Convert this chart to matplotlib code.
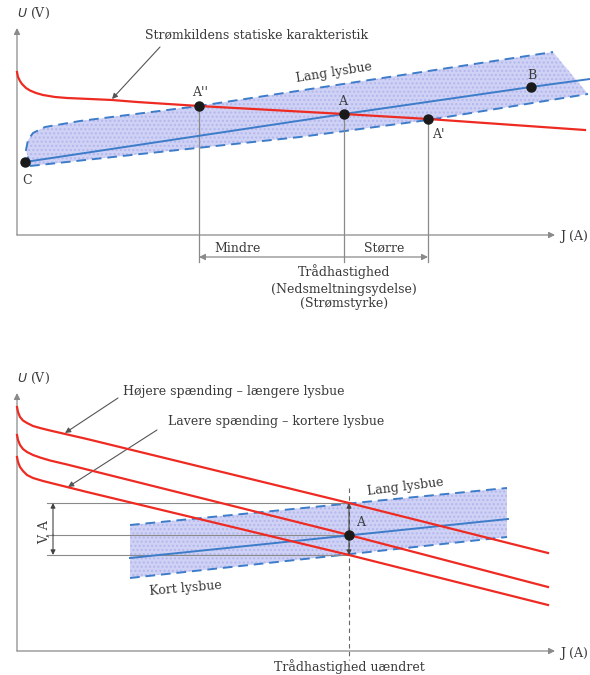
import matplotlib.pyplot as plt
from matplotlib.patches import Polygon

plt.rcParams["font.family"] = ["DejaVu Serif"]
TXT = "#3a3a3a"
RED = "#ee2b22"
BLUE = "#3d7cc9"
FILL = "#cfd2f5"
GREY = "#8a8a8a"

# ---- øverste diagram (vilkårlige enheder J, U) ----
kilde_j = [0, 0.2, 0.6, 1, 1.8, 2.6, 3.8, 5.2, 7.6, 10, 14.6, 19, 24, 36.4, 65.4, 82.2, 113.6]
kilde_u = [32.6, 31.6, 30.8, 30.2, 29.4, 28.9, 28.4, 28.0, 27.6, 27.4, 27.2, 27.0, 26.6,
           25.8, 24.2, 23.2, 21.0]

lysbue_j = [1.6, 65.4, 102.8, 114.6]
lysbue_u = [14.6, 24.2, 29.6, 31.2]

baand_top_j = [2.6, 1.8, 2.2, 3.2, 5.6, 12.6, 36.4, 107.2]
baand_top_u = [13.8, 17, 19, 20.4, 21.6, 22.8, 25.8, 36.6]
baand_bund_j = [2.6, 26.6, 56.6, 82.2, 114.2]
baand_bund_u = [13.8, 16.4, 19.6, 23.0, 28.2]

punkt_navn = ["A''", "A", "A'", "B", "C"]
punkt_j = [36.4, 65.4, 82.2, 102.8, 1.6]
punkt_u = [25.8, 24.2, 23.2, 29.6, 14.6]

# ---- nederste diagram ----
hoej_j = [0, 0.2, 0.6, 1.2, 2, 3.2, 4.6, 6.6, 9.2, 14, 66.4, 106.2]
hoej_u = [48.8, 47.8, 46.8, 46.1, 45.6, 45.0, 44.6, 44.1, 43.5, 42.4, 29.6, 19.6]
mellem_j = [0, 0.2, 0.6, 1.2, 2, 3.2, 4.6, 6.6, 10, 14, 66.4, 106.2]
mellem_u = [43.2, 42.2, 41.2, 40.4, 39.8, 39.2, 38.7, 38.1, 37.3, 36.3, 23.2, 12.8]
lav_j = [0, 0.2, 0.6, 1.2, 2, 3.2, 5.2, 7.6, 10, 14, 66.4, 106.2]
lav_u = [38.8, 37.8, 36.8, 36.0, 35.2, 34.6, 34.0, 33.4, 32.8, 31.8, 19.2, 9.2]

baand2_top_j = [22.6, 98]
baand2_top_u = [25.2, 32.6]
baand2_bund_j = [22.6, 98]
baand2_bund_u = [14.6, 22.8]
lysbue2_j = [22.6, 98.2]
lysbue2_u = [18.6, 26.4]

a_j = 66.4
niveau_u = [29.6, 23.2, 19.2]

fig = plt.figure(figsize=(5.9, 6.75), dpi=100)
ax1 = fig.add_axes([0, 1 - 330 / 675, 1, 330 / 675])
ax2 = fig.add_axes([0, 0, 1, 335 / 675])
ax1.set_xlim(-3.4, 114.6)
ax1.set_ylim(-19, 47)
ax2.set_xlim(-3.4, 114.6)
ax2.set_ylim(-4.8, 62.2)
for ax in (ax1, ax2):
    ax.axis("off")


def pil(ax, start, slut, color=GREY, lw=0.9, ms=9):
    ax.annotate("", xy=slut, xytext=start,
                arrowprops=dict(arrowstyle="-|>", color=color, lw=lw,
                                mutation_scale=ms, shrinkA=0, shrinkB=0))


def tekst(ax, x, y, s, **kw):
    kw.setdefault("ha", "center")
    kw.setdefault("va", "center")
    kw.setdefault("fontsize", 9)
    ax.text(x, y, s, color=TXT, **kw)


# ---------- øverst ----------
poly = list(zip(baand_top_j, baand_top_u)) + list(zip(baand_bund_j[::-1], baand_bund_u[::-1]))
ax1.add_patch(Polygon(poly, closed=True, facecolor=FILL, edgecolor="#b3b7ec",
                      hatch="....", lw=0, zorder=1))
ax1.plot(baand_top_j, baand_top_u, ls=(0, (5, 3)), color=BLUE, lw=1.4, zorder=2)
ax1.plot(baand_bund_j, baand_bund_u, ls=(0, (5, 3)), color=BLUE, lw=1.4, zorder=2)
ax1.plot(lysbue_j, lysbue_u, color=BLUE, lw=1.4, zorder=3)
ax1.plot(kilde_j, kilde_u, color=RED, lw=1.6, zorder=4)

for j, u in zip(punkt_j[:3], punkt_u[:3]):
    ax1.plot([j, j], [u, -5.4], color=GREY, lw=0.9, zorder=2)
ax1.plot(punkt_j, punkt_u, "o", color="#1a1a1a", ms=6.5, zorder=5)

tekst(ax1, 36.6, 28.6, "A''")
tekst(ax1, 65.2, 26.7, "A")
tekst(ax1, 84.2, 20.0, "A'")
tekst(ax1, 103.0, 31.9, "B")
tekst(ax1, 2.0, 11.0, "C")

pil(ax1, (0, 0), (0, 41.4))
pil(ax1, (0, 0), (107.6, 0))
tekst(ax1, 108.6, -0.3, "J (A)", ha="left")
tekst(ax1, 3.2, 44.4, "$U$ (V)")

tekst(ax1, 48.0, 40.0, "Strømkildens statiske karakteristik")
pil(ax1, (28.6, 37.6), (19.0, 27.2), color="#555555", lw=0.8, ms=8)
tekst(ax1, 63.4, 32.4, "Lang lysbue", rotation=9)

ax1.annotate("", xy=(36.4, -4.4), xytext=(82.2, -4.4),
             arrowprops=dict(arrowstyle="<|-|>", color=GREY, lw=0.9,
                             mutation_scale=9, shrinkA=0, shrinkB=0))
tekst(ax1, 44.2, -2.6, "Mindre")
tekst(ax1, 73.4, -2.6, "Større")
tekst(ax1, 65.4, -7.4, "Trådhastighed")
tekst(ax1, 65.4, -10.8, "(Nedsmeltningsydelse)")
tekst(ax1, 65.4, -13.8, "(Strømstyrke)")

# ---------- nederst ----------
poly2 = list(zip(baand2_top_j, baand2_top_u)) + list(zip(baand2_bund_j[::-1], baand2_bund_u[::-1]))
ax2.add_patch(Polygon(poly2, closed=True, facecolor=FILL, edgecolor="#b3b7ec",
                      hatch="....", lw=0, zorder=1))
ax2.plot(baand2_top_j, baand2_top_u, ls=(0, (5, 3)), color=BLUE, lw=1.4, zorder=2)
ax2.plot(baand2_bund_j, baand2_bund_u, ls=(0, (5, 3)), color=BLUE, lw=1.4, zorder=2)
ax2.plot(lysbue2_j, lysbue2_u, color=BLUE, lw=1.4, zorder=3)

for u in niveau_u:
    ax2.plot([6.0, a_j], [u, u], color=GREY, lw=0.8, zorder=2)
ax2.plot([a_j, a_j], [32.6, -1.8], color="#666666", lw=0.8, ls=(0, (4, 3)), zorder=2)

for j_, u_ in ((hoej_j, hoej_u), (mellem_j, mellem_u), (lav_j, lav_u)):
    ax2.plot(j_, u_, color=RED, lw=1.6, zorder=4)

for x in (7.2, a_j):
    pil(ax2, (x, niveau_u[1]), (x, niveau_u[0]), color="#444444", lw=0.8, ms=7)
    pil(ax2, (x, niveau_u[1]), (x, niveau_u[2]), color="#444444", lw=0.8, ms=7)
tekst(ax2, 5.4, 23.8, "V, A", rotation=90)
ax2.plot([a_j], [niveau_u[1]], "o", color="#1a1a1a", ms=6.5, zorder=5)
tekst(ax2, 68.8, 25.6, "A")

pil(ax2, (0, 0), (0, 51.6))
pil(ax2, (0, 0), (107.6, 0))
tekst(ax2, 108.6, -0.4, "J (A)", ha="left")
tekst(ax2, 3.2, 54.6, "$U$ (V)")

tekst(ax2, 43.4, 51.8, "Højere spænding – længere lysbue")
pil(ax2, (20.2, 50.6), (9.6, 43.6), color="#555555", lw=0.8, ms=8)
tekst(ax2, 51.9, 46.0, "Lavere spænding – kortere lysbue")
pil(ax2, (28.0, 44.2), (10.2, 32.8), color="#555555", lw=0.8, ms=8)

tekst(ax2, 77.6, 32.8, "Lang lysbue", rotation=7)
tekst(ax2, 33.8, 12.6, "Kort lysbue", rotation=5)
tekst(ax2, a_j, -3.2, "Trådhastighed uændret")

fig.savefig("out.png", dpi=100)
